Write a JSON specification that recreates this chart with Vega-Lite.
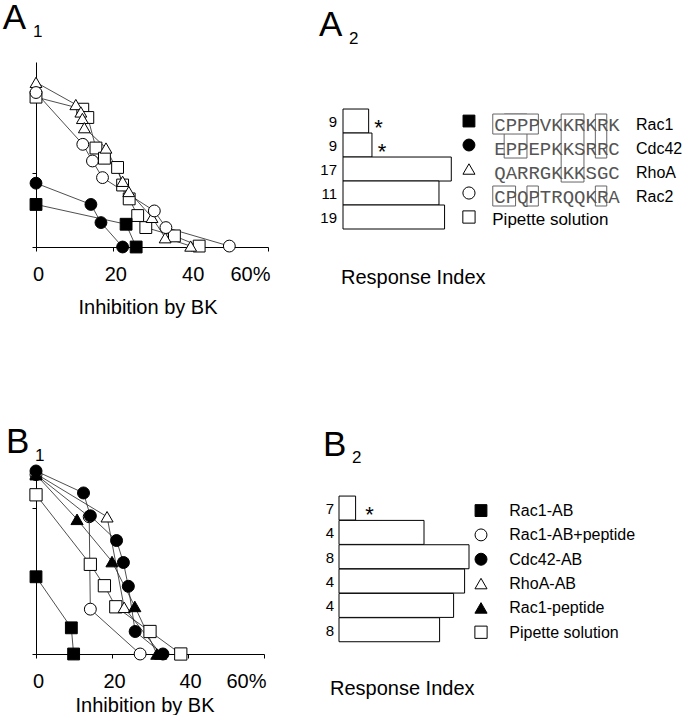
{
 "$schema": "https://vega.github.io/schema/vega-lite/v6.json",
 "background": "white",
 "padding": {"left": 2, "top": 1, "right": 0, "bottom": 0},
 "bounds": "flush",
 "spacing": 409,
 "config": {
  "font": "Liberation Sans",
  "view": {"stroke": null},
  "axis": {"grid": false, "domainColor": "black", "tickColor": "black", "labelColor": "black", "titleColor": "black", "titleFontWeight": "normal", "domainWidth": 1, "tickWidth": 1}
 },
 "datasets": {
  "one": [{"k": 1}],
  "a1": [
   {"grp": "Pipette solution", "inh": 0, "cum": 81},
   {"grp": "Pipette solution", "inh": 12.1, "cum": 74.5},
   {"grp": "Pipette solution", "inh": 13.4, "cum": 70},
   {"grp": "Pipette solution", "inh": 15.5, "cum": 53.5},
   {"grp": "Pipette solution", "inh": 17.7, "cum": 48},
   {"grp": "Pipette solution", "inh": 21.1, "cum": 43},
   {"grp": "Pipette solution", "inh": 22.4, "cum": 33.5},
   {"grp": "Pipette solution", "inh": 24.1, "cum": 26},
   {"grp": "Pipette solution", "inh": 26.3, "cum": 17},
   {"grp": "Pipette solution", "inh": 28.4, "cum": 10.5},
   {"grp": "Pipette solution", "inh": 35.8, "cum": 6},
   {"grp": "Pipette solution", "inh": 42.2, "cum": 0.5},
   {"grp": "RhoA", "inh": 0, "cum": 89},
   {"grp": "RhoA", "inh": 10.3, "cum": 77},
   {"grp": "RhoA", "inh": 11.6, "cum": 73},
   {"grp": "RhoA", "inh": 12, "cum": 69.5},
   {"grp": "RhoA", "inh": 12.5, "cum": 64.5},
   {"grp": "RhoA", "inh": 18.1, "cum": 53.5},
   {"grp": "RhoA", "inh": 22.4, "cum": 35.5},
   {"grp": "RhoA", "inh": 24, "cum": 30},
   {"grp": "RhoA", "inh": 30, "cum": 16},
   {"grp": "RhoA", "inh": 33.4, "cum": 5},
   {"grp": "RhoA", "inh": 40, "cum": 0.5},
   {"grp": "Rac2", "inh": 0, "cum": 83.5},
   {"grp": "Rac2", "inh": 12.1, "cum": 55.5},
   {"grp": "Rac2", "inh": 14.6, "cum": 46.5},
   {"grp": "Rac2", "inh": 17.2, "cum": 37.5},
   {"grp": "Rac2", "inh": 30.6, "cum": 19.5},
   {"grp": "Rac2", "inh": 33.6, "cum": 10.5},
   {"grp": "Rac2", "inh": 50, "cum": 0.5},
   {"grp": "Cdc42", "inh": 0, "cum": 34.5},
   {"grp": "Cdc42", "inh": 14.2, "cum": 23},
   {"grp": "Cdc42", "inh": 16.8, "cum": 13.2},
   {"grp": "Cdc42", "inh": 22.4, "cum": 0},
   {"grp": "Rac1", "inh": 0, "cum": 23},
   {"grp": "Rac1", "inh": 23.3, "cum": 12.3},
   {"grp": "Rac1", "inh": 25.9, "cum": 0}
  ],
  "a2": [
   {"grp": "Rac1", "row": 0, "n": "9", "resp": 2.25, "star": "*"},
   {"grp": "Cdc42", "row": 1, "n": "9", "resp": 2.54, "star": "*"},
   {"grp": "RhoA", "row": 2, "n": "17", "resp": 9.5, "star": ""},
   {"grp": "Rac2", "row": 3, "n": "11", "resp": 8.42, "star": ""},
   {"grp": "Pipette solution", "row": 4, "n": "19", "resp": 8.91, "star": ""}
  ],
  "seq": [
   {"row": 0, "seq": "CPPPVKKRKRK", "name": "Rac1"},
   {"row": 1, "seq": "EPPEPKKSRRC", "name": "Cdc42"},
   {"row": 2, "seq": "QARRGKKKSGC", "name": "RhoA"},
   {"row": 3, "seq": "CPQPTRQQKRA", "name": "Rac2"}
  ],
  "boxes": [
   {"c1": 1, "c2": 3, "r1": 0, "r2": 1},
   {"c1": 0, "c2": 4, "r1": 0, "r2": 0},
   {"c1": 6, "c2": 8, "r1": 0, "r2": 2},
   {"c1": 9, "c2": 10, "r1": 0, "r2": 1},
   {"c1": 0, "c2": 2, "r1": 3, "r2": 3},
   {"c1": 3, "c2": 4, "r1": 3, "r2": 3},
   {"c1": 9, "c2": 10, "r1": 3, "r2": 3}
  ],
  "b1": [
   {"grp": "Pipette solution", "inh": 0, "cum": 87},
   {"grp": "Pipette solution", "inh": 14.3, "cum": 49},
   {"grp": "Pipette solution", "inh": 18, "cum": 37.3},
   {"grp": "Pipette solution", "inh": 21, "cum": 25.8},
   {"grp": "Pipette solution", "inh": 30, "cum": 12.3},
   {"grp": "Pipette solution", "inh": 38.1, "cum": 0},
   {"grp": "Rac1-AB+peptide", "inh": 0, "cum": 98},
   {"grp": "Rac1-AB+peptide", "inh": 14, "cum": 75},
   {"grp": "Rac1-AB+peptide", "inh": 14.3, "cum": 24.5},
   {"grp": "Rac1-AB+peptide", "inh": 27.4, "cum": 0},
   {"grp": "RhoA-AB", "inh": 0, "cum": 98.5},
   {"grp": "RhoA-AB", "inh": 18.7, "cum": 75},
   {"grp": "RhoA-AB", "inh": 23.2, "cum": 25.5},
   {"grp": "RhoA-AB", "inh": 32.8, "cum": 0},
   {"grp": "Rac1-peptide", "inh": 0, "cum": 98},
   {"grp": "Rac1-peptide", "inh": 10.8, "cum": 73.6},
   {"grp": "Rac1-peptide", "inh": 20, "cum": 50.5},
   {"grp": "Rac1-peptide", "inh": 26, "cum": 26},
   {"grp": "Rac1-peptide", "inh": 31.8, "cum": 0},
   {"grp": "Rac1-AB", "inh": 0, "cum": 42.2},
   {"grp": "Rac1-AB", "inh": 9.3, "cum": 14.3},
   {"grp": "Rac1-AB", "inh": 9.9, "cum": 0},
   {"grp": "Cdc42-AB", "inh": 0, "cum": 100},
   {"grp": "Cdc42-AB", "inh": 12.5, "cum": 88},
   {"grp": "Cdc42-AB", "inh": 14.3, "cum": 75.5},
   {"grp": "Cdc42-AB", "inh": 21.2, "cum": 62},
   {"grp": "Cdc42-AB", "inh": 23, "cum": 50},
   {"grp": "Cdc42-AB", "inh": 24.3, "cum": 37},
   {"grp": "Cdc42-AB", "inh": 26.1, "cum": 12.3},
   {"grp": "Cdc42-AB", "inh": 33.4, "cum": 0}
  ],
  "b2": [
   {"grp": "Rac1-AB", "row": 0, "n": "7", "resp": 1.66, "star": "*"},
   {"grp": "Rac1-AB+peptide", "row": 1, "n": "4", "resp": 8.5, "star": ""},
   {"grp": "Cdc42-AB", "row": 2, "n": "8", "resp": 13.0, "star": ""},
   {"grp": "RhoA-AB", "row": 3, "n": "4", "resp": 12.56, "star": ""},
   {"grp": "Rac1-peptide", "row": 4, "n": "4", "resp": 11.46, "star": ""},
   {"grp": "Pipette solution", "row": 5, "n": "8", "resp": 10.06, "star": ""}
  ]
 },
 "resolve": {"scale": {"x": "independent", "y": "independent", "shape": "independent", "fill": "independent", "size": "independent"}},
 "vconcat": [
  {
   "bounds": "flush",
   "spacing": 75,
   "resolve": {"scale": {"x": "independent", "y": "independent", "shape": "independent", "fill": "independent", "size": "independent"}},
   "hconcat": [
    {
     "width": 232,
     "height": 185,
     "layer": [
      {
       "data": {"name": "a1"},
       "mark": {"type": "line", "stroke": "#222", "strokeWidth": 0.8},
       "encoding": {
        "x": {"field": "inh", "type": "quantitative", "scale": {"domain": [0, 60], "nice": false, "zero": false},
         "axis": {"values": [0, 10, 20, 30, 40, 50, 60], "labelExpr": "datum.value % 20 == 0 ? (datum.value == 60 ? '60%' : datum.label) : ''", "labelAlign": {"condition": {"test": "datum.value == 60", "value": "right"}, "value": "center"}, "labelOffset": 2, "labelFontSize": 20, "labelPadding": 13, "labelFlush": false, "labelOverlap": false, "tickSize": 4, "title": "Inhibition by BK", "titleFontSize": 20, "titlePadding": 13, "titleX": 111.5}},
        "y": {"field": "cum", "type": "quantitative", "scale": {"domain": [0, 100], "nice": false},
         "axis": {"values": [0, 10, 20, 30, 40, 50, 60, 70, 80, 90, 100], "labels": false, "tickSize": 4, "title": null}},
        "detail": {"field": "grp", "type": "nominal"}
       }
      },
      {
       "data": {"name": "a1"},
       "mark": {"type": "point", "filled": true, "stroke": "black", "strokeWidth": 1, "opacity": 1},
       "encoding": {
        "x": {"field": "inh", "type": "quantitative"},
        "y": {"field": "cum", "type": "quantitative"},
        "shape": {"field": "grp", "type": "nominal", "legend": null, "scale": {"domain": ["Rac1", "Cdc42", "RhoA", "Rac2", "Pipette solution"], "range": ["square", "circle", "triangle-up", "circle", "square"]}},
        "fill": {"field": "grp", "type": "nominal", "legend": null, "scale": {"domain": ["Rac1", "Cdc42", "RhoA", "Rac2", "Pipette solution"], "range": ["black", "black", "white", "white", "white"]}},
        "size": {"field": "grp", "type": "nominal", "legend": null, "scale": {"domain": ["Rac1", "Cdc42", "RhoA", "Rac2", "Pipette solution"], "range": [140, 140, 200, 140, 140]}}
       }
      },
      {
       "data": {"name": "one"},
       "mark": {"type": "text", "text": "A", "fontSize": 35, "align": "left", "baseline": "alphabetic", "color": "black"},
       "encoding": {"x": {"datum": -8.6, "type": "quantitative"}, "y": {"datum": 117.7, "type": "quantitative"}}
      },
      {
       "data": {"name": "one"},
       "mark": {"type": "text", "text": "1", "fontSize": 17, "align": "left", "baseline": "alphabetic", "color": "black"},
       "encoding": {"x": {"datum": -0.8, "type": "quantitative"}, "y": {"datum": 113.5, "type": "quantitative"}}
      }
     ]
    },
    {
     "width": 343,
     "height": 185,
     "title": {"text": "Response Index", "orient": "bottom", "anchor": "start", "frame": "group", "offset": 37, "dx": -2, "baseline": "alphabetic", "fontSize": 20, "fontWeight": "normal", "color": "black"},
     "resolve": {"scale": {"x": "independent"}},
     "layer": [
      {
       "data": {"name": "boxes"},
       "mark": {"type": "rect", "fill": "white", "stroke": "#666", "strokeWidth": 1, "yOffset": 5, "y2Offset": 25, "xOffset": -1.5, "x2Offset": -1.5},
       "encoding": {
        "x": {"field": "c1", "type": "quantitative", "scale": {"domain": [-13.27, 16.82], "nice": false, "zero": false}, "axis": null},
        "x2": {"field": "c2"},
        "y": {"field": "r1", "type": "quantitative", "scale": {"domain": [-1.96, 5.75], "nice": false, "zero": false, "reverse": true}, "axis": null},
        "y2": {"field": "r2"}
       }
      },
      {
       "data": {"name": "a2"},
       "mark": {"type": "rect", "fill": "white", "stroke": "black", "strokeWidth": 1, "y2Offset": 24},
       "encoding": {
        "x": {"field": "resp", "type": "quantitative", "scale": {"domain": [0, 30.09], "nice": false, "zero": false}, "axis": null},
        "x2": {"datum": 0},
        "y": {"field": "row", "type": "quantitative", "axis": null},
        "y2": {"field": "row"}
       }
      },
      {
       "data": {"name": "a2"},
       "mark": {"type": "text", "align": "right", "baseline": "middle", "dx": -6, "dy": 13, "fontSize": 15, "color": "black"},
       "encoding": {"x": {"datum": 0, "type": "quantitative", "scale": {"domain": [0, 30.09], "nice": false, "zero": false}, "axis": null}, "y": {"field": "row", "type": "quantitative"}, "text": {"field": "n", "type": "nominal"}}
      },
      {
       "data": {"name": "a2"},
       "mark": {"type": "text", "align": "center", "baseline": "alphabetic", "dx": 10, "dy": 26, "fontSize": 22, "color": "black"},
       "encoding": {"x": {"field": "resp", "type": "quantitative", "scale": {"domain": [0, 30.09], "nice": false, "zero": false}, "axis": null}, "y": {"field": "row", "type": "quantitative"}, "text": {"field": "star", "type": "nominal"}}
      },
      {
       "data": {"name": "a2"},
       "mark": {"type": "point", "filled": true, "stroke": "black", "strokeWidth": 1, "opacity": 1, "yOffset": 12},
       "encoding": {
        "x": {"datum": -2.22, "type": "quantitative", "scale": {"domain": [-13.27, 16.82], "nice": false, "zero": false}, "axis": null},
        "y": {"field": "row", "type": "quantitative"},
        "shape": {"field": "grp", "type": "nominal", "legend": null, "scale": {"domain": ["Rac1", "Cdc42", "RhoA", "Rac2", "Pipette solution"], "range": ["square", "circle", "triangle-up", "circle", "square"]}},
        "fill": {"field": "grp", "type": "nominal", "legend": null, "scale": {"domain": ["Rac1", "Cdc42", "RhoA", "Rac2", "Pipette solution"], "range": ["black", "black", "white", "white", "white"]}},
        "size": {"field": "grp", "type": "nominal", "legend": null, "scale": {"domain": ["Rac1", "Cdc42", "RhoA", "Rac2", "Pipette solution"], "range": [140, 150, 200, 150, 140]}}
       }
      },
      {
       "data": {"name": "seq"},
       "mark": {"type": "text", "font": "Liberation Mono", "fontSize": 19, "align": "left", "baseline": "middle", "dy": 16, "color": "#555"},
       "encoding": {"x": {"datum": 0, "type": "quantitative", "scale": {"domain": [-13.27, 16.82], "nice": false, "zero": false}, "axis": null}, "y": {"field": "row", "type": "quantitative"}, "text": {"field": "seq", "type": "nominal"}}
      },
      {
       "data": {"name": "seq"},
       "mark": {"type": "text", "fontSize": 16, "align": "left", "baseline": "middle", "dy": 16, "color": "black"},
       "encoding": {"x": {"datum": 12.43, "type": "quantitative", "scale": {"domain": [-13.27, 16.82], "nice": false, "zero": false}, "axis": null}, "y": {"field": "row", "type": "quantitative"}, "text": {"field": "name", "type": "nominal"}}
      },
      {
       "data": {"name": "a2"},
       "transform": [{"filter": "datum.grp == 'Pipette solution'"}],
       "mark": {"type": "text", "fontSize": 17, "align": "left", "baseline": "middle", "dx": -2, "dy": 15, "color": "black"},
       "encoding": {"x": {"datum": 0, "type": "quantitative", "scale": {"domain": [-13.27, 16.82], "nice": false, "zero": false}, "axis": null}, "y": {"field": "row", "type": "quantitative"}, "text": {"field": "grp", "type": "nominal"}}
      },
      {
       "data": {"name": "one"},
       "mark": {"type": "text", "text": "A", "fontSize": 35, "align": "left", "baseline": "alphabetic", "color": "black"},
       "encoding": {"x": {"datum": -2.1, "type": "quantitative", "scale": {"domain": [0, 30.09], "nice": false, "zero": false}, "axis": null}, "y": {"datum": -3.04, "type": "quantitative"}}
      },
      {
       "data": {"name": "one"},
       "mark": {"type": "text", "text": "2", "fontSize": 17, "align": "left", "baseline": "alphabetic", "color": "black"},
       "encoding": {"x": {"datum": 0.53, "type": "quantitative", "scale": {"domain": [0, 30.09], "nice": false, "zero": false}, "axis": null}, "y": {"datum": -2.7, "type": "quantitative"}}
      }
     ]
    }
   ]
  },
  {
   "bounds": "flush",
   "spacing": 75,
   "resolve": {"scale": {"x": "independent", "y": "independent", "shape": "independent", "fill": "independent", "size": "independent"}},
   "hconcat": [
    {
     "width": 228,
     "height": 183,
     "layer": [
      {
       "data": {"name": "b1"},
       "mark": {"type": "line", "stroke": "#222", "strokeWidth": 0.8},
       "encoding": {
        "x": {"field": "inh", "type": "quantitative", "scale": {"domain": [0, 60], "nice": false, "zero": false},
         "axis": {"values": [0, 10, 20, 30, 40, 50, 60], "labelExpr": "datum.value % 20 == 0 ? (datum.value == 60 ? '60%' : datum.label) : ''", "labelAlign": {"condition": {"test": "datum.value == 60", "value": "right"}, "value": "center"}, "labelOffset": 2, "labelFontSize": 20, "labelPadding": 13, "labelFlush": false, "labelOverlap": false, "tickSize": 4, "title": "Inhibition by BK", "titleFontSize": 20, "titlePadding": 4, "titleX": 108.5}},
        "y": {"field": "cum", "type": "quantitative", "scale": {"domain": [0, 100], "nice": false},
         "axis": {"values": [0, 10, 20, 30, 40, 50, 60, 70, 80, 90, 100], "labels": false, "tickSize": 4, "title": null}},
        "detail": {"field": "grp", "type": "nominal"}
       }
      },
      {
       "data": {"name": "b1"},
       "mark": {"type": "point", "filled": true, "stroke": "black", "strokeWidth": 1, "opacity": 1},
       "encoding": {
        "x": {"field": "inh", "type": "quantitative"},
        "y": {"field": "cum", "type": "quantitative"},
        "shape": {"field": "grp", "type": "nominal", "legend": null, "scale": {"domain": ["Rac1-AB", "Rac1-AB+peptide", "Cdc42-AB", "RhoA-AB", "Rac1-peptide", "Pipette solution"], "range": ["square", "circle", "circle", "triangle-up", "triangle-up", "square"]}},
        "fill": {"field": "grp", "type": "nominal", "legend": null, "scale": {"domain": ["Rac1-AB", "Rac1-AB+peptide", "Cdc42-AB", "RhoA-AB", "Rac1-peptide", "Pipette solution"], "range": ["black", "white", "black", "white", "black", "white"]}},
        "size": {"field": "grp", "type": "nominal", "legend": null, "scale": {"domain": ["Rac1-AB", "Rac1-AB+peptide", "Cdc42-AB", "RhoA-AB", "Rac1-peptide", "Pipette solution"], "range": [140, 150, 150, 200, 200, 140]}}
       }
      },
      {
       "data": {"name": "one"},
       "mark": {"type": "text", "text": "B", "fontSize": 35, "align": "left", "baseline": "alphabetic", "color": "black"},
       "encoding": {"x": {"datum": -7.9, "type": "quantitative"}, "y": {"datum": 109.8, "type": "quantitative"}}
      },
      {
       "data": {"name": "one"},
       "mark": {"type": "text", "text": "1", "fontSize": 17, "align": "left", "baseline": "alphabetic", "color": "black"},
       "encoding": {"x": {"datum": -0.26, "type": "quantitative"}, "y": {"datum": 105.5, "type": "quantitative"}}
      }
     ]
    },
    {
     "width": 347,
     "height": 183,
     "title": {"text": "Response Index", "orient": "bottom", "anchor": "start", "frame": "group", "offset": 41, "dx": -9, "baseline": "alphabetic", "fontSize": 20, "fontWeight": "normal", "color": "black"},
     "layer": [
      {
       "data": {"name": "b2"},
       "mark": {"type": "rect", "fill": "white", "stroke": "black", "strokeWidth": 1, "y2Offset": 24},
       "encoding": {
        "x": {"field": "resp", "type": "quantitative", "scale": {"domain": [0, 34.7], "nice": false, "zero": false}, "axis": null},
        "x2": {"datum": 0},
        "y": {"field": "row", "type": "quantitative", "scale": {"domain": [-1.03, 6.49], "nice": false, "zero": false, "reverse": true}, "axis": null},
        "y2": {"field": "row"}
       }
      },
      {
       "data": {"name": "b2"},
       "mark": {"type": "text", "align": "right", "baseline": "middle", "dx": -5, "dy": 13, "fontSize": 15, "color": "black"},
       "encoding": {"x": {"datum": 0, "type": "quantitative"}, "y": {"field": "row", "type": "quantitative"}, "text": {"field": "n", "type": "nominal"}}
      },
      {
       "data": {"name": "b2"},
       "mark": {"type": "text", "align": "center", "baseline": "alphabetic", "dx": 14, "dy": 26, "fontSize": 22, "color": "black"},
       "encoding": {"x": {"field": "resp", "type": "quantitative"}, "y": {"field": "row", "type": "quantitative"}, "text": {"field": "star", "type": "nominal"}}
      },
      {
       "data": {"name": "b2"},
       "mark": {"type": "point", "filled": true, "stroke": "black", "strokeWidth": 1, "opacity": 1, "yOffset": 14.5},
       "encoding": {
        "x": {"datum": 14.2, "type": "quantitative"},
        "y": {"field": "row", "type": "quantitative"},
        "shape": {"field": "grp", "type": "nominal", "legend": null, "scale": {"domain": ["Rac1-AB", "Rac1-AB+peptide", "Cdc42-AB", "RhoA-AB", "Rac1-peptide", "Pipette solution"], "range": ["square", "circle", "circle", "triangle-up", "triangle-up", "square"]}},
        "fill": {"field": "grp", "type": "nominal", "legend": null, "scale": {"domain": ["Rac1-AB", "Rac1-AB+peptide", "Cdc42-AB", "RhoA-AB", "Rac1-peptide", "Pipette solution"], "range": ["black", "white", "black", "white", "black", "white"]}},
        "size": {"field": "grp", "type": "nominal", "legend": null, "scale": {"domain": ["Rac1-AB", "Rac1-AB+peptide", "Cdc42-AB", "RhoA-AB", "Rac1-peptide", "Pipette solution"], "range": [140, 150, 150, 200, 200, 140]}}
       }
      },
      {
       "data": {"name": "b2"},
       "mark": {"type": "text", "fontSize": 16, "align": "left", "baseline": "middle", "dy": 15, "color": "black"},
       "encoding": {"x": {"datum": 17.03, "type": "quantitative"}, "y": {"field": "row", "type": "quantitative"}, "text": {"field": "grp", "type": "nominal"}}
      },
      {
       "data": {"name": "one"},
       "mark": {"type": "text", "text": "B", "fontSize": 35, "align": "left", "baseline": "alphabetic", "color": "black"},
       "encoding": {"x": {"datum": -1.6, "type": "quantitative"}, "y": {"datum": -1.64, "type": "quantitative"}}
      },
      {
       "data": {"name": "one"},
       "mark": {"type": "text", "text": "2", "fontSize": 17, "align": "left", "baseline": "alphabetic", "color": "black"},
       "encoding": {"x": {"datum": 1.3, "type": "quantitative"}, "y": {"datum": -1.36, "type": "quantitative"}}
      }
     ]
    }
   ]
  }
 ]
}
